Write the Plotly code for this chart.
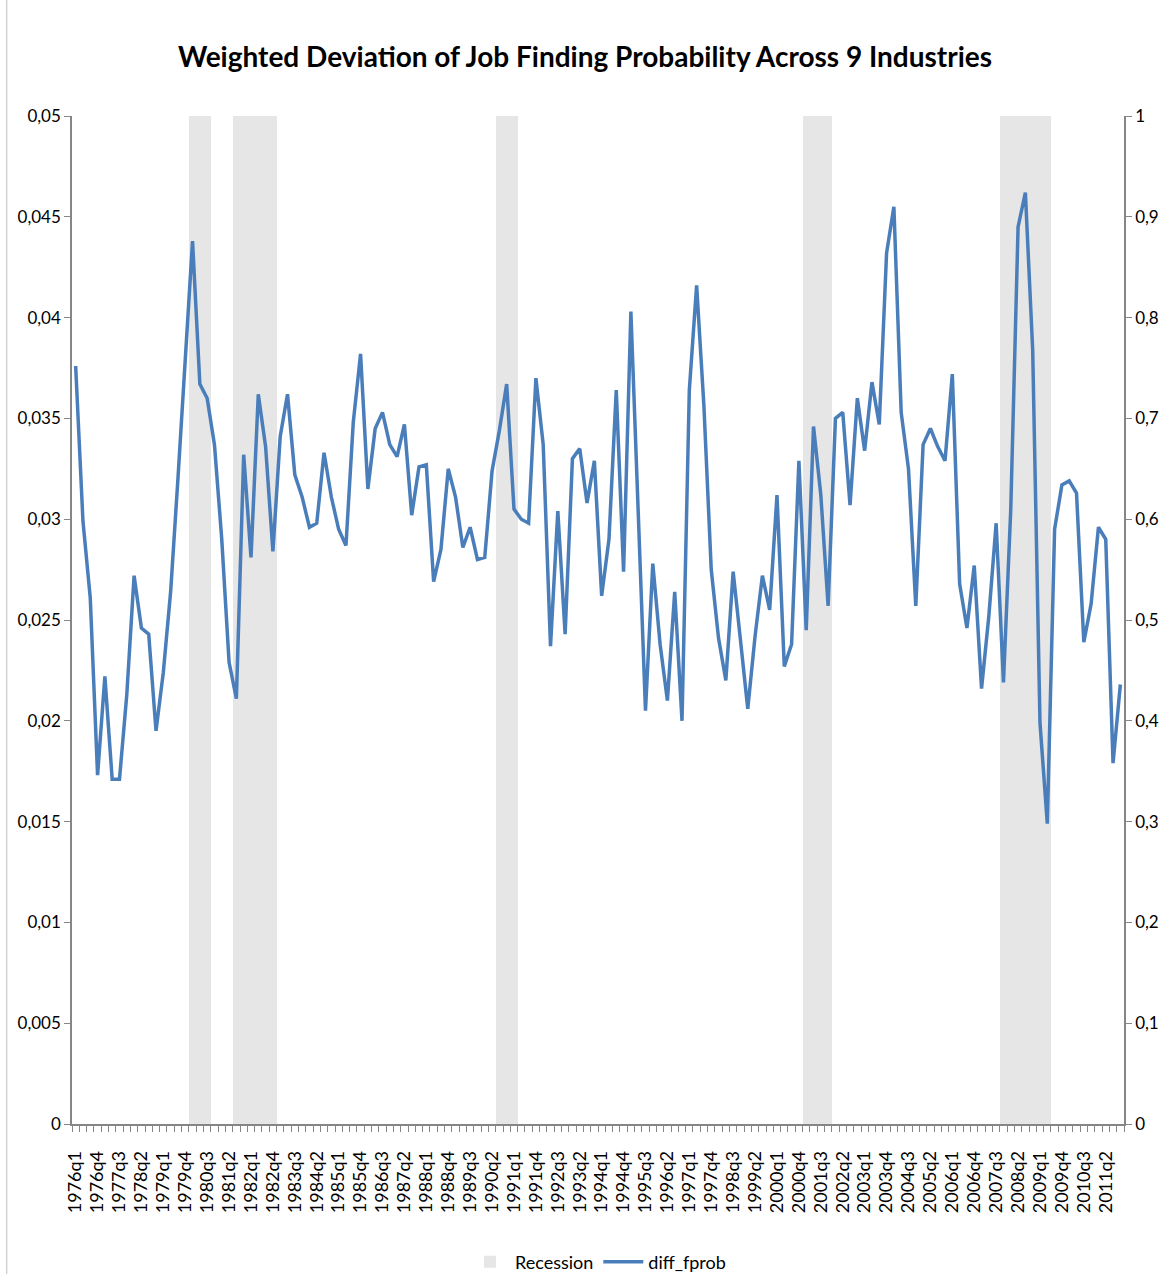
import plotly.graph_objects as go

#quarters 1976q1 .. 2011q4
quarters = [f"{y}q{q}" for y in range(1976, 2012) for q in range(1, 5)]

diff_fprob = [
    0.0376, 0.0299, 0.0261, 0.0173,  # 1976
    0.0222, 0.0171, 0.0171, 0.0213,  # 1977
    0.0272, 0.0246, 0.0243, 0.0195,  # 1978
    0.0224, 0.0264, 0.0320, 0.0377,  # 1979
    0.0438, 0.0367, 0.0360, 0.0337,  # 1980
    0.0290, 0.0229, 0.0211, 0.0332,  # 1981
    0.0281, 0.0362, 0.0336, 0.0284,  # 1982
    0.0341, 0.0362, 0.0322, 0.0311,  # 1983
    0.0296, 0.0298, 0.0333, 0.0311,  # 1984
    0.0295, 0.0287, 0.0348, 0.0382,  # 1985
    0.0315, 0.0345, 0.0353, 0.0337,  # 1986
    0.0331, 0.0347, 0.0302, 0.0326,  # 1987
    0.0327, 0.0269, 0.0285, 0.0325,  # 1988
    0.0311, 0.0286, 0.0296, 0.0280,  # 1989
    0.0281, 0.0324, 0.0344, 0.0367,  # 1990
    0.0305, 0.0300, 0.0298, 0.0370,  # 1991
    0.0337, 0.0237, 0.0304, 0.0243,  # 1992
    0.0330, 0.0335, 0.0308, 0.0329,  # 1993
    0.0262, 0.0290, 0.0364, 0.0274,  # 1994
    0.0403, 0.0304, 0.0205, 0.0278,  # 1995
    0.0238, 0.0210, 0.0264, 0.0200,  # 1996
    0.0364, 0.0416, 0.0356, 0.0275,  # 1997
    0.0241, 0.0220, 0.0274, 0.0240,  # 1998
    0.0206, 0.0242, 0.0272, 0.0255,  # 1999
    0.0312, 0.0227, 0.0238, 0.0329,  # 2000
    0.0245, 0.0346, 0.0312, 0.0257,  # 2001
    0.0350, 0.0353, 0.0307, 0.0360,  # 2002
    0.0334, 0.0368, 0.0347, 0.0432,  # 2003
    0.0455, 0.0353, 0.0325, 0.0257,  # 2004
    0.0337, 0.0345, 0.0336, 0.0329,  # 2005
    0.0372, 0.0268, 0.0246, 0.0277,  # 2006
    0.0216, 0.0252, 0.0298, 0.0219,  # 2007
    0.0305, 0.0445, 0.0462, 0.0384,  # 2008
    0.0199, 0.0149, 0.0295, 0.0317,  # 2009
    0.0319, 0.0313, 0.0239, 0.0258,  # 2010
    0.0296, 0.0290, 0.0179, 0.0218,  # 2011
]

#NBER recession quarters
recession_quarters = [
    "1980q1", "1980q2", "1980q3",
    "1981q3", "1981q4", "1982q1", "1982q2", "1982q3", "1982q4",
    "1990q3", "1990q4", "1991q1",
    "2001q1", "2001q2", "2001q3", "2001q4",
    "2007q4", "2008q1", "2008q2", "2008q3", "2008q4", "2009q1", "2009q2",
]
recession = [1 if q in recession_quarters else 0 for q in quarters]

left_ticks = [0, 0.005, 0.01, 0.015, 0.02, 0.025, 0.03, 0.035, 0.04, 0.045, 0.05]
left_labels = ["0", "0,005", "0,01", "0,015", "0,02", "0,025", "0,03", "0,035", "0,04", "0,045", "0,05"]
right_ticks = [0, 0.1, 0.2, 0.3, 0.4, 0.5, 0.6, 0.7, 0.8, 0.9, 1]
right_labels = ["0", "0,1", "0,2", "0,3", "0,4", "0,5", "0,6", "0,7", "0,8", "0,9", "1"]

x_idx = list(range(len(quarters)))
label_idx = x_idx[::3]
label_text = quarters[::3]

FONT = "Lato, Liberation Sans, sans-serif"
AXIS_GREY = "#868686"

fig = go.Figure()

#recession columns on the right-hand axis (drawn underneath)
fig.add_trace(go.Bar(
    x=x_idx, y=recession,
    marker=dict(color="#e6e6e6", line=dict(width=0)),
    name="Recession",
    yaxis="y",
    hoverinfo="skip",
))

#the series itself, on the left-hand axis
fig.add_trace(go.Scatter(
    x=x_idx, y=diff_fprob,
    mode="lines",
    line=dict(color="#4a7ebb", width=3.5),
    name="diff_fprob",
    yaxis="y2",
))

fig.update_layout(
    width=1170, height=1274,
    paper_bgcolor="white",
    plot_bgcolor="white",
    margin=dict(l=72, r=46, t=116, b=150),
    bargap=0,
    title=dict(
        text="<b>Weighted Deviation of Job Finding Probability Across 9 Industries</b>",
        x=0.5, xref="container", y=(1274 - 57) / 1274, yanchor="middle",
        font=dict(family=FONT, size=28, color="black"),
    ),
    xaxis=dict(
        range=[-0.5, len(quarters) - 0.5],
        tickmode="array", tickvals=label_idx, ticktext=label_text,
        tickangle=-90,
        ticks="",
        ticklabelstandoff=18,
        tickfont=dict(family=FONT, size=18, color="black"),
        showline=True, linecolor=AXIS_GREY, linewidth=1.5,
        showgrid=False, zeroline=False,
        minor=dict(tickmode="linear", tick0=-0.5, dtick=1, ticks="outside",
                   ticklen=6, tickcolor=AXIS_GREY, tickwidth=1, showgrid=False),
    ),
    yaxis=dict(
        range=[0, 1], side="right",
        tickmode="array", tickvals=right_ticks, ticktext=right_labels,
        ticks="outside", ticklen=6, tickcolor=AXIS_GREY,
        tickfont=dict(family=FONT, size=17, color="black"),
        showline=True, linecolor=AXIS_GREY, linewidth=1.5,
        showgrid=False, zeroline=False,
    ),
    yaxis2=dict(
        range=[0, 0.05], side="left", overlaying="y", anchor="x",
        tickmode="array", tickvals=left_ticks, ticktext=left_labels,
        ticks="outside", ticklen=6, tickcolor=AXIS_GREY,
        tickfont=dict(family=FONT, size=17, color="black"),
        showline=True, linecolor=AXIS_GREY, linewidth=1.5,
        showgrid=False, zeroline=False,
    ),
    legend=dict(
        orientation="h", x=0.5, xanchor="center",
        yref="container", y=12 / 1274, yanchor="middle",
        font=dict(family=FONT, size=18, color="black"),
        itemwidth=40,
    ),
    shapes=[dict(type="line", xref="paper", yref="paper",
                 x0=-0.062, x1=-0.062, y0=-0.2, y1=1.12,
                 line=dict(color="#bfbfbf", width=1))],
)

fig.write_html("out.html", config={"displayModeBar": False},
               post_script="document.body.style.margin='0';")
